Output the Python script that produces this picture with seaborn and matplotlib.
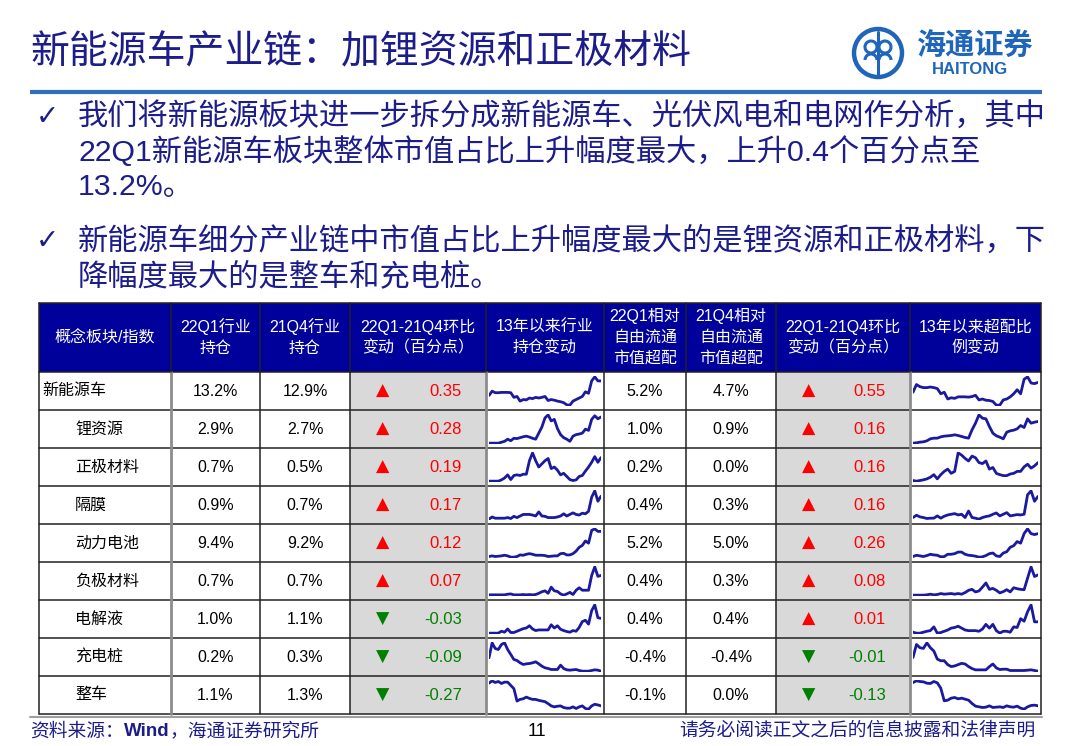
import matplotlib
matplotlib.use("Agg")
import matplotlib.pyplot as plt
import matplotlib.patches as patches
import seaborn as sns

sns.set_theme(style="white")
plt.rcParams['font.family'] = ['Noto Sans CJK SC', 'DejaVu Sans']

# ---- data ----
categories = ['新能源车', '锂资源', '正极材料', '隔膜', '动力电池', '负极材料', '电解液', '充电桩', '整车']
hold_22q1 = [13.2, 2.9, 0.7, 0.9, 9.4, 0.7, 1.0, 0.2, 1.1]
hold_21q4 = [12.9, 2.7, 0.5, 0.7, 9.2, 0.7, 1.1, 0.3, 1.3]
hold_chg = [0.35, 0.28, 0.19, 0.17, 0.12, 0.07, -0.03, -0.09, -0.27]
over_22q1 = [5.2, 1.0, 0.2, 0.4, 5.2, 0.4, 0.4, -0.4, -0.1]
over_21q4 = [4.7, 0.9, 0.0, 0.3, 5.0, 0.3, 0.4, -0.4, 0.0]
over_chg = [0.55, 0.16, 0.16, 0.16, 0.26, 0.08, 0.01, -0.01, -0.13]

hold_nev = [43, 57, 52, 52, 53, 53, 53, 52, 37, 40, 25, 30, 29, 35, 33, 37, 35, 37, 40, 27,
            30, 28, 25, 23, 20, 13, 12, 25, 30, 35, 40, 55, 50, 90, 103, 90, 90]
hold_li = [10, 10, 10, 10, 13, 16, 23, 18, 26, 25, 28, 31, 33, 30, 26, 23, 43, 63, 93, 103,
           83, 88, 58, 38, 28, 23, 16, 33, 38, 40, 43, 56, 52, 88, 100, 90, 96]
hold_cathode = [12, 12, 12, 12, 16, 22, 32, 17, 30, 32, 30, 34, 34, 77, 102, 77, 57, 67, 77, 84,
                52, 57, 47, 32, 37, 27, 17, 14, 16, 27, 30, 44, 57, 72, 90, 72, 87]
hold_separator = [11, 18, 14, 14, 14, 14, 16, 13, 20, 16, 21, 26, 26, 26, 24, 21, 34, 21, 20, 16,
                  16, 16, 18, 21, 28, 21, 26, 31, 26, 24, 30, 28, 36, 81, 101, 68, 84]
hold_battery = [14, 16, 14, 15, 16, 18, 16, 12, 12, 14, 19, 18, 21, 23, 21, 18, 18, 18, 17, 14,
                15, 16, 16, 23, 24, 19, 19, 23, 31, 43, 49, 63, 56, 96, 101, 93, 93]
hold_anode = [12, 12, 12, 12, 12, 12, 14, 15, 12, 12, 12, 13, 12, 13, 12, 13, 17, 22, 25, 17,
              37, 25, 23, 15, 11, 15, 20, 13, 27, 35, 27, 27, 27, 75, 103, 72, 75]
hold_electrolyte = [11, 11, 11, 11, 17, 14, 24, 13, 13, 17, 21, 25, 27, 34, 24, 19, 21, 21, 21, 21,
                    37, 27, 34, 23, 19, 16, 14, 19, 17, 29, 47, 51, 39, 81, 99, 59, 57]
hold_charger = [53, 98, 81, 78, 93, 98, 78, 63, 48, 45, 38, 33, 35, 36, 38, 41, 35, 28, 23, 21,
                18, 18, 18, 31, 21, 17, 16, 17, 18, 15, 13, 13, 13, 15, 17, 16, 13]
hold_vehicle = [92, 99, 94, 97, 91, 95, 95, 85, 75, 37, 42, 44, 49, 45, 42, 42, 39, 37, 35, 29,
                22, 19, 21, 22, 17, 15, 15, 19, 14, 19, 22, 14, 12, 22, 27, 25, 22]

over_nev = [55, 80, 73, 70, 70, 72, 70, 67, 50, 55, 33, 37, 35, 40, 40, 40, 39, 41, 45, 30,
            33, 29, 28, 25, 13, 13, 30, 33, 40, 50, 63, 50, 97, 105, 85, 83, 87]
over_li = [13, 14, 16, 17, 20, 26, 28, 28, 32, 34, 35, 36, 38, 36, 33, 30, 28, 53, 73, 98,
           88, 86, 63, 43, 35, 31, 26, 46, 50, 52, 56, 66, 60, 86, 73, 76, 78]
over_cathode = [12, 10, 12, 14, 17, 22, 30, 17, 30, 40, 47, 34, 40, 97, 90, 80, 72, 87, 82, 67,
                64, 72, 47, 52, 34, 30, 27, 27, 32, 34, 40, 40, 54, 62, 50, 57, 67]
over_separator = [16, 23, 18, 16, 13, 14, 14, 21, 14, 20, 24, 26, 28, 24, 26, 16, 36, 16, 14, 11,
                  16, 19, 21, 26, 30, 21, 26, 31, 21, 23, 25, 24, 26, 86, 98, 66, 81]
over_battery = [14, 18, 16, 14, 17, 21, 19, 18, 13, 14, 21, 21, 23, 28, 28, 21, 18, 17, 15, 12,
                13, 17, 23, 25, 16, 14, 25, 29, 43, 48, 61, 56, 86, 101, 86, 83, 86]
over_anode = [12, 12, 12, 12, 13, 15, 13, 14, 17, 15, 16, 17, 15, 17, 15, 20, 27, 30, 22, 25,
              37, 50, 30, 33, 27, 19, 23, 29, 22, 35, 32, 30, 29, 65, 100, 70, 75]
over_electrolyte = [14, 11, 11, 14, 17, 19, 31, 11, 13, 17, 21, 27, 29, 33, 27, 21, 19, 19, 19, 17,
                    24, 39, 27, 39, 19, 11, 17, 17, 14, 31, 29, 57, 49, 79, 101, 47, 47]
over_charger = [53, 93, 83, 81, 98, 83, 73, 48, 43, 43, 31, 25, 27, 31, 35, 33, 25, 19, 15, 15,
                15, 15, 25, 33, 21, 16, 17, 17, 13, 13, 13, 13, 13, 14, 15, 13, 11]
over_vehicle = [92, 97, 95, 94, 90, 89, 95, 91, 75, 37, 39, 45, 47, 43, 45, 42, 39, 29, 21, 19,
                17, 18, 22, 17, 18, 19, 17, 22, 19, 18, 21, 15, 12, 19, 23, 24, 22]

hold_trends = [hold_nev, hold_li, hold_cathode, hold_separator, hold_battery,
               hold_anode, hold_electrolyte, hold_charger, hold_vehicle]
over_trends = [over_nev, over_li, over_cathode, over_separator, over_battery,
               over_anode, over_electrolyte, over_charger, over_vehicle]

headers = [['概念板块/指数'], ['22Q1行业', '持仓'], ['21Q4行业', '持仓'],
           ['22Q1-21Q4环比', '变动（百分点）'], ['13年以来行业', '持仓变动'],
           ['22Q1相对', '自由流通', '市值超配'], ['21Q4相对', '自由流通', '市值超配'],
           ['22Q1-21Q4环比', '变动（百分点）'], ['13年以来超配比', '例变动']]

title = '新能源车产业链：加锂资源和正极材料'
bullet1 = ['我们将新能源板块进一步拆分成新能源车、光伏风电和电网作分析，其中',
           '22Q1新能源车板块整体市值占比上升幅度最大，上升0.4个百分点至',
           '13.2%。']
bullet2 = ['新能源车细分产业链中市值占比上升幅度最大的是锂资源和正极材料，下',
           '降幅度最大的是整车和充电桩。']

# ---- layout ----
W, H = 1080, 746
NAVY = '#1c1c8a'
HEAD = '#00009a'
LINE = '#1a1a9e'
MIX = ['Liberation Sans', 'Noto Sans CJK SC', 'DejaVu Sans']

fig = plt.figure(figsize=(W / 100, H / 100), dpi=100)
ax = fig.add_axes([0, 0, 1, 1])
ax.set_xlim(0, W)
ax.set_ylim(H, 0)
ax.axis('off')

# title + logo
ax.text(30, 52, title, fontsize=28, color=NAVY, va='center', ha='left', fontweight='medium')
ax.plot([30, 1042], [92, 92], color='#2f6fc0', lw=3, solid_capstyle='butt')
logo_c = '#1f66bb'
ax.add_patch(patches.Circle((878, 53), 24, fill=False, lw=3.2, color=logo_c))
for dx in (-7, 7):
    ax.add_patch(patches.Arc((878 + dx, 47), 12, 12, theta1=0, theta2=360, lw=2.2, color=logo_c))
    ax.add_patch(patches.Arc((878 + dx, 60), 12, 12, theta1=180, theta2=360, lw=2.2, color=logo_c))
ax.plot([878, 878], [32, 74], color=logo_c, lw=2.2)
ax.text(975, 46, '海通证券', fontsize=21, color=logo_c, ha='center', va='center', fontweight='bold')
ax.text(970, 69, 'HAITONG', fontsize=12, color=logo_c, ha='center', va='center',
        fontweight='bold', family=MIX)

# bullets
for ys, lines in (([117, 152, 187], bullet1), ([241, 277], bullet2)):
    ax.text(47, ys[0], '✓', fontsize=20, color=NAVY, ha='center', va='center', family='DejaVu Sans')
    for y, s in zip(ys, lines):
        ax.text(78, y, s, fontsize=21.8, color=NAVY, ha='left', va='center', family=MIX)

# table
cols = [39, 171, 260, 350, 486, 604, 686, 776, 910, 1041]
top, head_bot, row_h = 303, 372, 38
n = len(categories)
bot = head_bot + row_h * n

ax.add_patch(patches.Rectangle((cols[0], top), cols[-1] - cols[0], head_bot - top,
                               facecolor=HEAD, edgecolor='none'))
for c in (3, 7):
    ax.add_patch(patches.Rectangle((cols[c], head_bot), cols[c + 1] - cols[c], bot - head_bot,
                                   facecolor='#d9d9d9', edgecolor='none'))

for i, lines in enumerate(headers):
    xc = (cols[i] + cols[i + 1]) / 2
    yc = (top + head_bot) / 2
    k = len(lines)
    for j, s in enumerate(lines):
        y = yc + (j - (k - 1) / 2) * 21
        ax.text(xc, y, s, fontsize=11.5, color='white', ha='center', va='center', family=MIX)

for r in range(n):
    yc = head_bot + row_h * r + row_h / 2
    ax.text(42 if r == 0 else 75, yc, categories[r], fontsize=11.5, color='black',
            ha='left', va='center')
    for c, vals in ((1, hold_22q1), (2, hold_21q4), (5, over_22q1), (6, over_21q4)):
        ax.text((cols[c] + cols[c + 1]) / 2, yc, f'{vals[r]:.1f}%', fontsize=11.5,
                color='black', ha='center', va='center', family=MIX)
    for c, vals in ((3, hold_chg), (7, over_chg)):
        v = vals[r]
        clr = '#ff0000' if v > 0 else '#008000'
        mark = '▲' if v > 0 else '▼'
        ax.text(cols[c] + 33, yc, mark, fontsize=12.5, color=clr, ha='center', va='center',
                family='DejaVu Sans')
        ax.text(cols[c + 1] - 24, yc, f'{v:.2f}', fontsize=12, color=clr,
                ha='right', va='center', family=MIX)
    # sparklines
    for c, trends in ((4, hold_trends), (8, over_trends)):
        x0, x1 = cols[c] + 3, cols[c + 1] - 3
        y0 = head_bot + row_h * r + 4
        y1 = y0 + row_h - 8
        sax = fig.add_axes([x0 / W, 1 - y1 / H, (x1 - x0) / W, (y1 - y0) / H])
        vals = trends[r]
        sns.lineplot(x=list(range(len(vals))), y=vals, ax=sax, color=LINE, linewidth=2)
        sax.set_xlim(0, len(vals) - 1)
        lo, hi = min(vals), max(vals)
        sax.set_ylim(lo - (hi - lo) * 0.03, hi + (hi - lo) * 0.03)
        sax.axis('off')

# grid lines
for r in range(n + 1):
    y = head_bot + row_h * r
    ax.plot([cols[0], cols[-1]], [y, y], color='#222222', lw=1.1)
ax.plot([cols[0], cols[-1]], [top, top], color='#222222', lw=1.1)
for i, x in enumerate(cols):
    if i in (1, 4, 8):
        ax.plot([x, x], [head_bot, bot], color='#8c8c8c', lw=2)
    else:
        ax.plot([x, x], [head_bot, bot], color='#222222', lw=1.1)
    ax.plot([x, x], [top, head_bot], color='#222222', lw=1.1)

# footer: pieces laid side by side using measured widths
ax.plot([30, 1042], [717, 717], color='#a0a0a0', lw=1.5)
fig.canvas.draw()
renderer = fig.canvas.get_renderer()
x = 30
for s, kw in (('资料来源：', {}),
              ('Wind', {'fontweight': 'bold', 'family': MIX}),
              ('，海通证券研究所', {})):
    t = ax.text(x, 731, s, fontsize=13.5, color=NAVY, ha='left', va='center', **kw)
    x += t.get_window_extent(renderer).width
ax.text(537, 731, '11', fontsize=13, color='black', ha='center', va='center', family=MIX)
ax.text(1035, 731, '请务必阅读正文之后的信息披露和法律声明', fontsize=13.5, color=NAVY,
        ha='right', va='center')

fig.savefig('out.png', dpi=100)
